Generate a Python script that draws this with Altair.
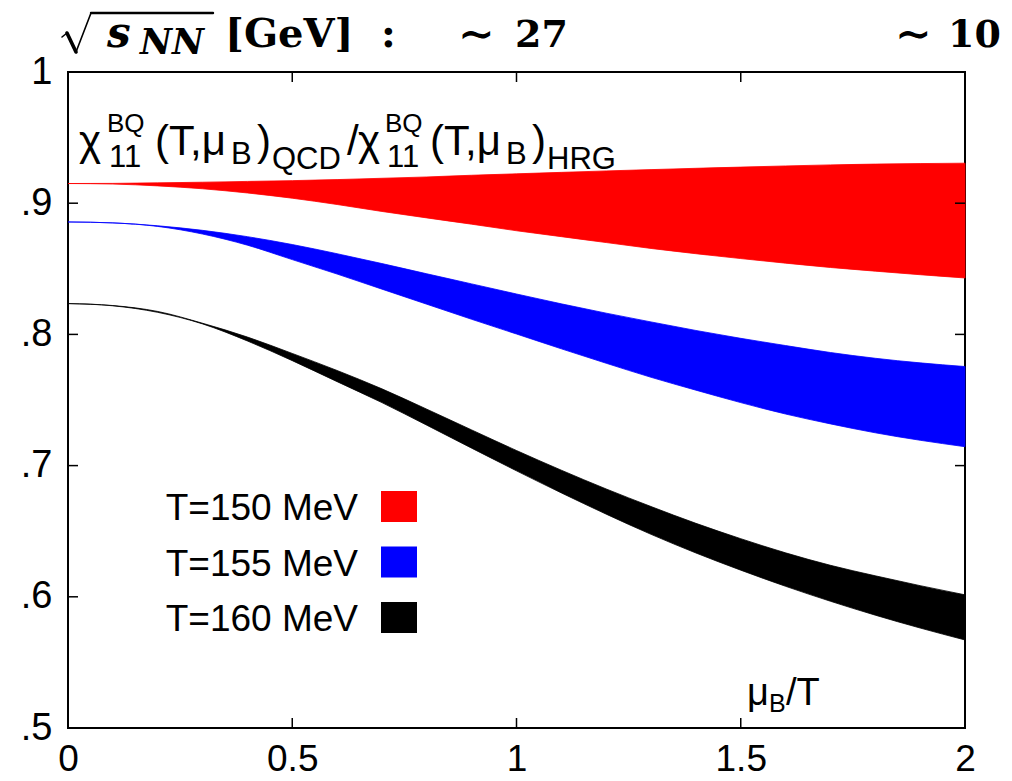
import altair as alt
import pandas as pd

# ---------------- data ----------------
mu = [0.0, 0.1, 0.2, 0.3, 0.4, 0.5, 0.6, 0.7, 0.8, 0.9, 1.0,
      1.1, 1.2, 1.3, 1.4, 1.5, 1.6, 1.7, 1.8, 1.9, 2.0]

red_lo = [0.9150, 0.9146, 0.9132, 0.9110, 0.9078, 0.9038, 0.8990, 0.8937, 0.8888, 0.8840, 0.8790,
          0.8745, 0.8700, 0.8655, 0.8615, 0.8578, 0.8543, 0.8510, 0.8482, 0.8455, 0.8430]
red_hi = [0.9150, 0.9151, 0.9155, 0.9160, 0.9166, 0.9172, 0.9180, 0.9190, 0.9200, 0.9213, 0.9224,
          0.9235, 0.9246, 0.9256, 0.9266, 0.9275, 0.9284, 0.9292, 0.9298, 0.9302, 0.9305]
blue_lo = [0.8857, 0.8850, 0.8823, 0.8765, 0.8680, 0.8570, 0.8460, 0.8345, 0.8230, 0.8115, 0.8003,
           0.7890, 0.7780, 0.7673, 0.7575, 0.7480, 0.7393, 0.7318, 0.7250, 0.7193, 0.7144]
blue_hi = [0.8857, 0.8850, 0.8828, 0.8793, 0.8745, 0.8685, 0.8615, 0.8540, 0.8462, 0.8385, 0.8308,
           0.8233, 0.8162, 0.8095, 0.8030, 0.7970, 0.7915, 0.7862, 0.7818, 0.7783, 0.7755]
black_lo = [0.8235, 0.8218, 0.8168, 0.8080, 0.7950, 0.7800, 0.7640, 0.7480, 0.7308, 0.7133, 0.6960,
            0.6792, 0.6630, 0.6476, 0.6334, 0.6203, 0.6080, 0.5966, 0.5860, 0.5762, 0.5671]
black_hi = [0.8235, 0.8220, 0.8175, 0.8085, 0.7980, 0.7855, 0.7725, 0.7585, 0.7430, 0.7272, 0.7115,
            0.6965, 0.6822, 0.6688, 0.6560, 0.6443, 0.6335, 0.6240, 0.6160, 0.6085, 0.6015]

series_names = ["T=150 MeV", "T=155 MeV", "T=160 MeV"]
series_colors = ["#ff0000", "#0000ff", "#000000"]

x_ticks = [0, 0.5, 1, 1.5, 2]
y_ticks = [0.5, 0.6, 0.7, 0.8, 0.9, 1.0]
inner_x_ticks = [0.5, 1, 1.5]
inner_y_ticks = [0.6, 0.7, 0.8, 0.9]

# ---------------- build table ----------------
rows = []
for name, lo, hi in zip(series_names, [red_lo, blue_lo, black_lo], [red_hi, blue_hi, black_hi]):
    for m, l, h in zip(mu, lo, hi):
        rows.append({"mu": m, "lo": l, "hi": h, "T": name})
df = pd.DataFrame(rows)

W, H = 897, 656
SANS = "Liberation Sans"
SERIF = "DejaVu Serif"

xs = alt.Scale(domain=[0, 2], nice=False, zero=False)
ys = alt.Scale(domain=[0.5, 1], nice=False, zero=False)
cs = alt.Scale(domain=series_names, range=series_colors)

xa = alt.Axis(values=x_ticks, format="~g", ticks=False, domain=False, grid=False,
              labelFont=SANS, labelFontSize=37, labelColor="black",
              labelPadding=13, labelFlush=False, labelOverlap=False, title=None)
ya = alt.Axis(values=y_ticks, ticks=False, domain=False, grid=False,
              labelExpr="datum.value == 1 ? '1' : replace(format(datum.value, '.1f'), '0.', '.')",
              labelFont=SANS, labelFontSize=38, labelColor="black",
              labelPadding=16, labelOverlap=False, title=None)

bands = alt.Chart(df).mark_area(interpolate="monotone", strokeWidth=0.8, opacity=1).encode(
    x=alt.X("mu:Q", scale=xs, axis=xa, title=None),
    y=alt.Y("lo:Q", scale=ys, axis=ya, title=None),
    y2="hi:Q",
    color=alt.Color("T:N", scale=cs, legend=None),
    stroke=alt.Stroke("T:N", scale=cs, legend=None),
)

ytdf = pd.DataFrame({"v": inner_y_ticks})
xtdf = pd.DataFrame({"v": inner_x_ticks})
tick_layers = [
    alt.Chart(ytdf).mark_rule(color="black", strokeWidth=1.5).encode(
        y=alt.Y("v:Q", scale=ys, axis=ya, title=None), x=alt.value(0), x2=alt.value(10)),
    alt.Chart(ytdf).mark_rule(color="black", strokeWidth=1.5).encode(
        y=alt.Y("v:Q", scale=ys, axis=ya, title=None), x=alt.value(W - 10), x2=alt.value(W)),
    alt.Chart(xtdf).mark_rule(color="black", strokeWidth=1.5).encode(
        x=alt.X("v:Q", scale=xs, axis=xa, title=None), y=alt.value(H - 10), y2=alt.value(H)),
    alt.Chart(xtdf).mark_rule(color="black", strokeWidth=1.5).encode(
        x=alt.X("v:Q", scale=xs, axis=xa, title=None), y=alt.value(0), y2=alt.value(10)),
]


def txt(s, x, y, size, font=SANS, weight="normal", style="normal", align="left"):
    return alt.Chart(pd.DataFrame({"t": [s]})).mark_text(
        align=align, baseline="alphabetic", fontSize=size, font=font,
        fontWeight=weight, fontStyle=style, color="black"
    ).encode(x=alt.value(x), y=alt.value(y), text="t:N")


def seg(x1, y1, x2, y2, w):
    return alt.Chart(pd.DataFrame({"t": ["seg"]})).mark_rule(
        color="black", strokeWidth=w, strokeCap="round").encode(
        x=alt.value(x1), y=alt.value(y1), x2=alt.value(x2), y2=alt.value(y2))


texts = []
# y quantity label
MAIN, SUP, SUB = 42, 26, 31
texts += [
    txt("χ", 11, 83, MAIN), txt("BQ", 39, 60, SUP), txt("11", 41, 95, SUB),
    txt("(T,μ", 87, 83, MAIN), txt("B", 163, 92, SUB), txt(")", 189, 83, MAIN),
    txt("QCD", 204, 97, SUB), txt("/", 279, 83, MAIN),
    txt("χ", 290, 83, MAIN), txt("BQ", 317, 60, SUP), txt("11", 319, 95, SUB),
    txt("(T,μ", 362, 83, MAIN), txt("B", 438, 92, SUB), txt(")", 464, 83, MAIN),
    txt("HRG", 479, 97, SUB),
]
# x quantity label
texts += [txt("μ", 679, 633, 38), txt("B", 701, 640, 25), txt("/T", 718, 633, 38)]
# legend
for i, (name, col) in enumerate(zip(series_names, series_colors)):
    texts.append(txt(name, 290, 448 + 55.7 * i, 37, align="right"))
    texts.append(
        alt.Chart(pd.DataFrame({"t": [name]})).mark_rect(color=col).encode(
            x=alt.value(313), x2=alt.value(349),
            y=alt.value(419 + 55.5 * i), y2=alt.value(450 + 55.5 * i))
    )
# energy header: sqrt sign drawn as strokes, then text
texts += [
    seg(-6, -35, -1, -39, 1.6),
    seg(-1, -39, 8, -20, 3.6),
    seg(8, -20, 23, -59, 1.6),
    seg(23, -59, 145, -59, 2.4),
    txt("s", 39, -25, 42, font=SERIF, weight="bold", style="italic"),
    txt("NN", 72, -18, 35, font=SERIF, weight="bold", style="italic"),
    txt("[GeV]", 157, -25, 40, font=SERIF, weight="bold"),
    txt(":", 313, -25, 40, font=SERIF, weight="bold"),
    txt("∼", 390, -23, 44, font=SERIF, weight="bold"),
    txt("27", 447, -25, 38, font=SERIF, weight="bold"),
    txt("∼", 827, -23, 44, font=SERIF, weight="bold"),
    txt("10", 880, -25, 38, font=SERIF, weight="bold"),
]

chart = alt.layer(bands, *tick_layers, *texts).properties(
    width=W, height=H,
    padding={"left": 60, "top": 64, "right": 38, "bottom": 52},
    autosize=alt.AutoSizeParams(type="none"),
).configure_view(stroke="black", strokeWidth=2)

chart.save("out.html", embed_options={"renderer": "svg", "actions": False})
